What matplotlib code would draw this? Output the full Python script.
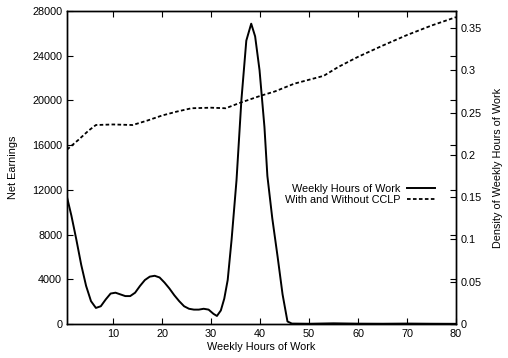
import matplotlib
matplotlib.use("Agg")
import matplotlib.pyplot as plt

plt.rcParams['font.family'] = ['Liberation Sans', 'DejaVu Sans']

# Dashed series: net earnings (left axis)
earn_x = [0.6, 3, 5, 6.5, 10, 14, 17, 20, 23, 26, 30, 33, 36, 40, 43, 47, 50, 53,
          56, 60, 65, 70, 75, 80]
earn_y = [15600, 16500, 17300, 17800, 17850, 17800, 18200, 18650, 19000, 19300,
          19350, 19300, 19800, 20400, 20800, 21500, 21850, 22200, 23000, 23900,
          24900, 25850, 26700, 27450]

# Solid series: density of weekly hours (right axis)
dens_x = [0.6, 1.5, 2.5, 3.5, 4.5, 5.5, 6.5, 7.5, 8.5, 9.5, 10.5, 11.5, 12.5, 13.5,
          14.5, 15.5, 16.5, 17.5, 18.5, 19.5, 20.5, 21.5, 22.5, 23.5, 24.5, 25.5,
          26.5, 27.5, 28.5, 29.5, 30.5, 31.2, 32, 32.7, 33.4, 34.2, 35.2, 36.2,
          37.2, 38.2, 39.0, 39.9, 40.9, 41.5, 42.5, 43.6, 44.6, 45.6, 46.5, 50,
          55, 60, 65, 70, 75, 80]
dens_y = [0.150, 0.128, 0.100, 0.070, 0.045, 0.027, 0.019, 0.021, 0.029, 0.036,
          0.037, 0.035, 0.033, 0.033, 0.037, 0.045, 0.052, 0.056, 0.057, 0.055,
          0.049, 0.042, 0.034, 0.027, 0.021, 0.018, 0.017, 0.017, 0.018, 0.017,
          0.012, 0.0095, 0.016, 0.030, 0.052, 0.10, 0.17, 0.265, 0.335, 0.355,
          0.340, 0.30, 0.233, 0.175, 0.125, 0.079, 0.035, 0.003, 0.0005, 0.0003,
          0.0008, 0.0004, 0.0003, 0.0005, 0.0003, 0.0002]

x_ticks = [10, 20, 30, 40, 50, 60, 70, 80]
left_ticks = [0, 4000, 8000, 12000, 16000, 20000, 24000, 28000]
right_ticks = [0, 0.05, 0.1, 0.15, 0.2, 0.25, 0.3, 0.35]
right_labels = ['0', '0.05', '0.1', '0.15', '0.2', '0.25', '0.3', '0.35']

fig = plt.figure(figsize=(5.08, 3.58), dpi=100)
ax = fig.add_axes([67/508, 1-324/358, (456-67)/508, (324-11)/358])
ax2 = ax.twinx()

fs = 7.8
l2, = ax.plot(earn_x, earn_y, color='black', lw=1.3, linestyle=(0, (2, 1.3)),
              label='With and Without CCLP')
l1, = ax2.plot(dens_x, dens_y, color='black', lw=1.4, label='Weekly Hours of Work')

ax.set_xlim(0.6, 80)
ax.set_ylim(0, 28000)
ax2.set_ylim(0, 0.37)

ax.set_xticks(x_ticks)
ax.set_yticks(left_ticks)
ax2.set_yticks(right_ticks)
ax2.set_yticklabels(right_labels)

ax.tick_params(axis='both', direction='in', length=4, width=0.8, labelsize=fs,
               top=True, right=True, colors='black')
ax2.tick_params(axis='y', direction='in', length=4, width=0.8, labelsize=fs)

ax.set_xlabel('Weekly Hours of Work', fontsize=fs, labelpad=2)
ax.set_ylabel('Net Earnings', fontsize=fs, labelpad=10)
ax2.set_ylabel('Density of Weekly Hours of Work', fontsize=fs, labelpad=8)

for sp in list(ax.spines.values()) + list(ax2.spines.values()):
    sp.set_linewidth(1.0)

leg = ax.legend([l1, l2], ['Weekly Hours of Work', 'With and Without CCLP'],
                loc='upper right', bbox_to_anchor=(0.96, 0.465), frameon=False,
                fontsize=fs, markerfirst=False, handlelength=2.6,
                handletextpad=0.6, labelspacing=0.1, borderpad=0)
for t in leg.get_texts():
    t.set_ha('right')

fig.savefig('out.png', dpi=100)
